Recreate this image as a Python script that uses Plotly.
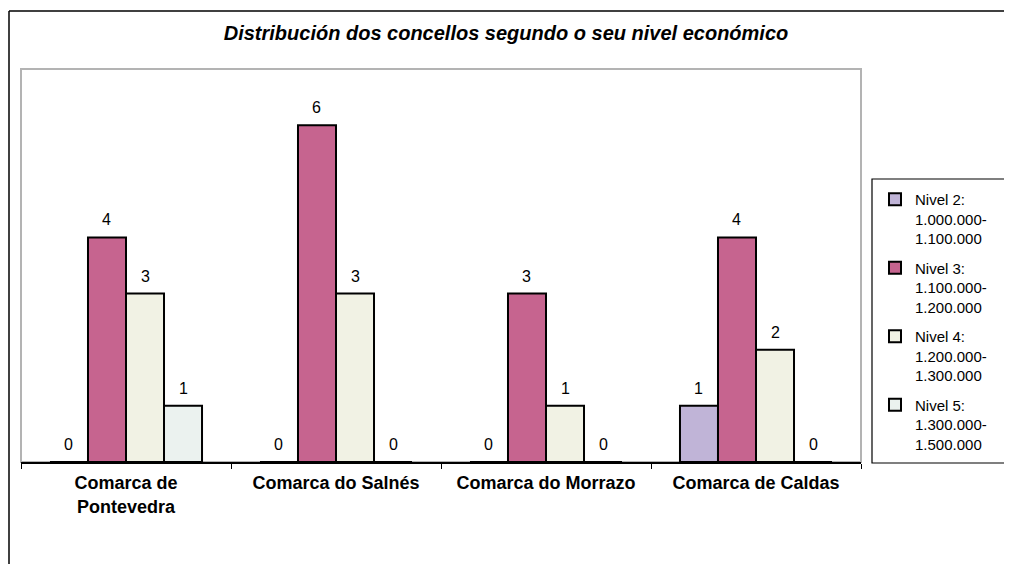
import plotly.graph_objects as go

categories = ["Comarca de<br>Pontevedra", "Comarca do Salnés", "Comarca do Morrazo", "Comarca de Caldas"]
series_names = [
    "Nivel 2:<br>1.000.000-<br>1.100.000",
    "Nivel 3:<br>1.100.000-<br>1.200.000",
    "Nivel 4:<br>1.200.000-<br>1.300.000",
    "Nivel 5:<br>1.300.000-<br>1.500.000",
]
nivel2 = [0, 0, 0, 1]
nivel3 = [4, 6, 3, 4]
nivel4 = [3, 3, 1, 2]
nivel5 = [1, 0, 0, 0]
colors = ["#C0B4D7", "#C6648F", "#F1F2E4", "#EBF2EF"]

series_values = [nivel2, nivel3, nivel4, nivel5]

FONT = "Liberation Sans, Arial, sans-serif"
OFF = 8  # page body margin offset
W, H = 1012 - OFF, 564 - OFF
# target plot area in page pixels: x 21..861, y 69..462
L, R, T, B = 21 - OFF, 1012 - 861, 69 - OFF, 564 - 462
plot_w = W - L - R
plot_h = H - T - B
bargap = 0.276

def px_x(px):
    return (px - OFF - L) / plot_w

def px_y(py):
    return (H - B - (py - OFF)) / plot_h

fig = go.Figure()
for i, (name, vals, col) in enumerate(zip(series_names, series_values, colors)):
    fig.add_trace(go.Bar(
        x=categories, y=vals, name=name, legendgroup=f"g{i}",
        marker=dict(color=col, line=dict(color="black", width=2)),
        hoverinfo="y+name",
    ))

# value labels above each bar
n = len(series_values)
bar_px = plot_w / len(categories) * (1 - bargap) / n
annotations = []
for i, vals in enumerate(series_values):
    for c, v in zip(categories, vals):
        annotations.append(dict(
            x=c, y=v, xref="x", yref="y", text=str(v), showarrow=False,
            xshift=(i - (n - 1) / 2) * bar_px, yshift=7, yanchor="bottom",
            font=dict(family=FONT, size=16, color="black"),
        ))

shapes = [
    # plot area border (gray)
    dict(type="rect", xref="paper", yref="paper", x0=0, x1=1, y0=0, y1=1,
         line=dict(color="#B3B3B3", width=2), layer="below"),
    # outer chart frame
    dict(type="line", xref="paper", yref="paper", x0=px_x(9), x1=px_x(1030), y0=px_y(11), y1=px_y(11),
         line=dict(color="black", width=1.5)),
    dict(type="line", xref="paper", yref="paper", x0=px_x(9), x1=px_x(9), y0=px_y(11), y1=px_y(600),
         line=dict(color="black", width=1.5)),
    # legend frame
    dict(type="rect", xref="paper", yref="paper", x0=px_x(872), x1=px_x(1006), y0=px_y(463), y1=px_y(179),
         line=dict(color="black", width=1.2), layer="below"),
]

fig.update_layout(
    width=W, height=H,
    margin=dict(l=L, r=R, t=T, b=B),
    paper_bgcolor="white", plot_bgcolor="white",
    barmode="group", bargap=bargap, bargroupgap=0,
    title=dict(text="<b><i>Distribución dos concellos segundo o seu nivel económico</i></b>",
               x=(506 - OFF) / W, xref="container", y=1 - (33 - OFF) / H, yref="container",
               yanchor="middle", xanchor="center",
               font=dict(family=FONT, size=20, color="black")),
    font=dict(family=FONT, size=15, color="black"),
    xaxis=dict(showline=True, linecolor="black", linewidth=1.5, ticks="outside", tickson="boundaries",
               ticklen=5, tickcolor="black", tickwidth=1,
               tickfont=dict(family=FONT, size=18, color="black"),
               tickprefix="<b>", ticksuffix="</b>", showgrid=False, zeroline=False,
               ticklabelstandoff=4),
    yaxis=dict(range=[0, 7], visible=False, showgrid=False, zeroline=False),
    legend=dict(x=px_x(875), y=px_y(183), xanchor="left", yanchor="top",
                borderwidth=0, bgcolor="rgba(0,0,0,0)",
                font=dict(family=FONT, size=15, color="black"),
                tracegroupgap=7, valign="top", traceorder="grouped"),
    annotations=annotations,
    shapes=shapes,
)

fig.write_html("out.html")
